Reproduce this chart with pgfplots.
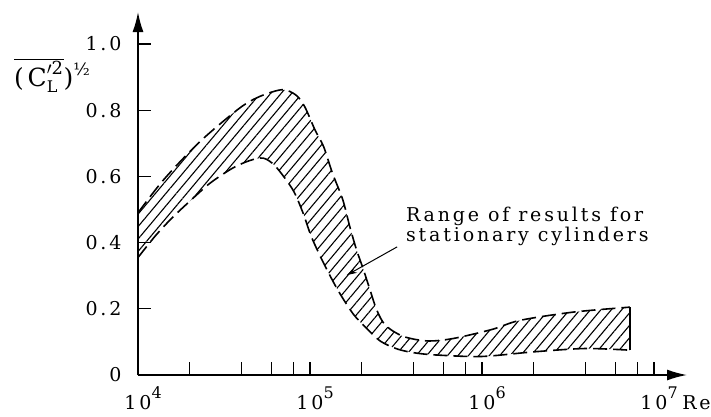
\documentclass[border=0pt]{standalone}
\usepackage{pgfplots}
\pgfplotsset{compat=1.18}
\usepgfplotslibrary{fillbetween}
\usetikzlibrary{patterns.meta,arrows.meta}
\usepackage{fontspec}
\setmainfont{DejaVu Serif}
\newfontfamily\lab{DejaVu Serif}[LetterSpace=15]
\newcommand{\labfont}{\lab\fontsize{19}{21}\selectfont}
\newcommand{\expo}[1]{\rlap{\raisebox{11pt}{\fontsize{16}{16}\selectfont\lab #1}}}

% upper and lower limits of the rms lift coefficient band
\pgfplotstableread{
Re      cl
1.00e4  0.490
1.41e4  0.590
2.29e4  0.705
3.89e4  0.806
5.13e4  0.842
6.92e4  0.862
8.32e4  0.845
9.33e4  0.810
1.07e5  0.740
1.20e5  0.690
1.35e5  0.610
1.55e5  0.530
1.70e5  0.450
1.86e5  0.380
2.04e5  0.320
2.24e5  0.255
2.45e5  0.195
2.75e5  0.150
3.47e5  0.117
4.79e5  0.103
6.76e5  0.110
1.15e6  0.138
1.66e6  0.165
3.39e6  0.190
7.24e6  0.205
}\upperband

\pgfplotstableread{
Re      cl
1.00e4  0.355
1.26e4  0.420
1.58e4  0.475
2.00e4  0.525
2.63e4  0.580
3.55e4  0.625
4.47e4  0.648
5.37e4  0.655
6.31e4  0.630
7.94e4  0.560
9.12e4  0.489
1.02e5  0.417
1.20e5  0.338
1.45e5  0.257
1.78e5  0.185
2.14e5  0.140
2.57e5  0.102
3.24e5  0.078
4.17e5  0.066
5.62e5  0.060
1.00e6  0.056
2.00e6  0.070
3.98e6  0.080
7.24e6  0.075
}\lowerband

\begin{document}
\begin{tikzpicture}
\begin{axis}[
  name=ax, at={(0,0)}, anchor=south west,
  scale only axis, width=549pt, height=363pt,
  xmode=log, xmin=1e4, xmax=1.5556e7,
  ymin=0, ymax=1.0967,
  enlargelimits=false,
  axis lines=left,
  axis line style={line width=1.6pt, -{Latex[length=20pt,width=11pt]}},
  tick align=inside,
  major tick length=13pt, minor tick length=13pt,
  tick style={black, line width=1.2pt},
  xtick={1e4,1e5,1e6,1e7},
  minor xtick={2e4,4e4,6e4,8e4,2e5,4e5,6e5,8e5,2e6,4e6,6e6,8e6},
  xticklabels={10\expo{4},10\expo{5},10\expo{6},10\expo{7}},
  xticklabel style={font=\labfont, anchor=base, yshift=-34pt},
  ytick={0,0.2,0.4,0.6,0.8,1.0},
  yticklabels={0,0.2,0.4,0.6,0.8,1.0},
  yticklabel style={font=\labfont, anchor=east, xshift=-13pt},
  clip=false,
]
\addplot[name path=upper, line width=1.6pt, dash pattern=on 14pt off 6pt,
  smooth, tension=0.5] table[x=Re, y=cl] {\upperband};
\addplot[name path=lower, line width=1.6pt, dash pattern=on 14pt off 6pt,
  smooth, tension=0.5] table[x=Re, y=cl] {\lowerband};
\addplot[draw=none, pattern={Lines[angle=50,distance=8pt,line width=1.1pt]}]
  fill between[of=upper and lower];
\addplot[line width=1.4pt] coordinates {(7.24e6,0.075) (7.24e6,0.205)};

% annotation
\draw[line width=1pt, -{Stealth[length=10pt,width=6pt]}]
  (axis cs:3.21e5,0.387) -- (axis cs:1.64e5,0.302);
\node[anchor=base west, inner sep=0, font=\labfont] at (axis cs:3.61e5,0.465)
  {Range of results for};
\node[anchor=base west, inner sep=0, font=\labfont] at (axis cs:3.61e5,0.402)
  {stationary cylinders};

% axis titles
\node[anchor=base west, inner sep=0, font=\labfont] at (rel axis cs:0.991,0)
  [yshift=-34pt] {Re};
\node[anchor=base west, inner sep=0, xshift=-124pt]
  at (rel axis cs:0,0.795)
  {\fontsize{25}{27}\selectfont$\overline{\hbox{\lab\fontsize{25}{27}\selectfont(C}^{\prime\hbox{\fontsize{18}{18}\selectfont\lab 2}}_{\hbox{\fontsize{16}{16}\selectfont\lab L}}}$\hbox{\lab\fontsize{25}{27}\selectfont)}\raisebox{11pt}{\fontsize{17}{17}\selectfont\lab ½}};
\end{axis}
\pgfresetboundingbox
\path[use as bounding box] ([shift={(-138pt,-41pt)}]ax.south west)
  rectangle ([shift={(573pt,375pt)}]ax.south west);
\end{tikzpicture}
\end{document}
